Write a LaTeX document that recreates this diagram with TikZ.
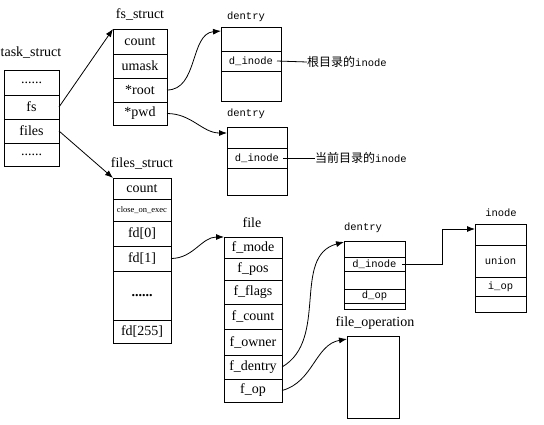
\documentclass[tikz,border=0pt]{standalone}
\usepackage{fontspec}
\setmainfont{Liberation Serif}
\newfontfamily\monofont{Liberation Mono}
\newfontfamily\cjk{Noto Sans CJK SC}
\usetikzlibrary{positioning,arrows.meta}

\tikzstyle{field} = [rectangle, draw, inner sep=0pt, outer sep=0pt, line width=0.8pt,
    font=\fontsize{14}{16}\selectfont]
\tikzstyle{dfield} = [field, font=\monofont\fontsize{10.5}{12}\selectfont]
\tikzstyle{title} = [inner sep=0pt, font=\fontsize{14}{16}\selectfont]
\tikzstyle{dtitle} = [inner sep=0pt, font=\monofont\fontsize{10.5}{12}\selectfont]
\tikzstyle{tsk} = [field, minimum width=55pt]
\tikzstyle{fss} = [field, minimum width=54pt]
\tikzstyle{den} = [dfield, minimum width=60pt]
\tikzstyle{fls} = [field, minimum width=58pt]
\tikzstyle{fil} = [field, minimum width=58pt]
\tikzstyle{ino} = [dfield, minimum width=51pt]
\tikzstyle{line} = [draw, line width=0.8pt, -{Latex[length=8pt,width=6pt]}]
\tikzstyle{plain} = [draw, line width=0.8pt]

\begin{document}
\begin{tikzpicture}[x=1pt, y=-1pt]
    \useasboundingbox (0,0) rectangle (544,424);
    % task_struct
    \node [title] at (31,53) {task\_struct};
    \node [tsk, minimum height=25pt, anchor=north west] (t1) at (4,70) {......};
    \node [tsk, minimum height=24pt, below=0pt of t1] (tfs) {fs};
    \node [tsk, minimum height=24pt, below=0pt of tfs] (tfiles) {files};
    \node [tsk, minimum height=23pt, below=0pt of tfiles] (t4) {......};

    % fs_struct
    \node [title] at (140,14) {fs\_struct};
    \node [fss, minimum height=25pt, anchor=north west] (fs1) at (113,29) {count};
    \node [fss, minimum height=24pt, below=0pt of fs1] (fs2) {umask};
    \node [fss, minimum height=24pt, below=0pt of fs2] (froot) {*root};
    \node [fss, minimum height=23pt, below=0pt of froot] (fpwd) {*pwd};

    % dentry of root
    \node [dtitle] at (246,17) {dentry};
    \node [den, minimum height=24pt, anchor=north west] (d1a) at (221,27) {};
    \node [den, minimum height=20pt, below=0pt of d1a] (d1inode) {d\_inode};
    \node [den, minimum height=30pt, below=0pt of d1inode] (d1c) {};
    \node [anchor=west, inner sep=0pt] (rootlbl) at (307,62)
        {\cjk\fontsize{12}{14}\selectfont 根目录的{\monofont\fontsize{10.5}{12}\selectfont inode}};

    % dentry of pwd
    \node [dtitle] at (246,114) {dentry};
    \node [den, minimum height=21pt, anchor=north west] (d2a) at (227,127) {};
    \node [den, minimum height=20pt, below=0pt of d2a] (d2inode) {d\_inode};
    \node [den, minimum height=27pt, below=0pt of d2inode] (d2c) {};
    \node [anchor=west, inner sep=0pt] (pwdlbl) at (315,158)
        {\cjk\fontsize{12}{14}\selectfont 当前目录的{\monofont\fontsize{10.5}{12}\selectfont inode}};

    % files_struct
    \node [title] at (142,163) {files\_struct};
    \node [fls, minimum height=21pt, anchor=north west] (fl1) at (113,178) {count};
    \node [fls, minimum height=22pt, below=0pt of fl1, font=\fontsize{8.5}{10}\selectfont] (fl2) {close\_on\_exec};
    \node [fls, minimum height=25pt, below=0pt of fl2] (fd0) {fd[0]};
    \node [fls, minimum height=25pt, below=0pt of fd0] (fd1) {fd[1]};
    \node [fls, minimum height=49pt, below=0pt of fd1] (fdots) {\textbf{......}};
    \node [fls, minimum height=23pt, below=0pt of fdots] (fd255) {fd[255]};

    % file
    \node [title] at (252,223) {file};
    \node [fil, minimum height=21pt, anchor=north west] (fmode) at (224,237) {f\_mode};
    \node [fil, minimum height=22pt, below=0pt of fmode] (fpos) {f\_pos};
    \node [fil, minimum height=24pt, below=0pt of fpos] (fflags) {f\_flags};
    \node [fil, minimum height=25pt, below=0pt of fflags] (fcount) {f\_count};
    \node [fil, minimum height=26pt, below=0pt of fcount] (fowner) {f\_owner};
    \node [fil, minimum height=24pt, below=0pt of fowner] (fdentry) {f\_dentry};
    \node [fil, minimum height=23pt, below=0pt of fdentry] (fop) {f\_op};

    % dentry of file
    \node [dtitle] at (363,228) {dentry};
    \node [den, minimum width=61pt, minimum height=16pt, anchor=north west] (d3a) at (344,241) {};
    \node [den, minimum width=61pt, minimum height=14pt, below=0pt of d3a] (d3inode) {d\_inode};
    \node [den, minimum width=61pt, minimum height=18pt, below=0pt of d3inode] (d3c) {};
    \node [den, minimum width=61pt, minimum height=14pt, below=0pt of d3c] (d3op) {d\_op};
    \node [den, minimum width=61pt, minimum height=6pt, below=0pt of d3op] (d3e) {};

    % inode
    \node [dtitle] at (501,213) {inode};
    \node [ino, minimum height=21pt, anchor=north west] (ino1) at (475,224) {};
    \node [ino, minimum height=32pt, below=0pt of ino1] (iunion) {union};
    \node [ino, minimum height=19pt, below=0pt of iunion] (iop) {i\_op};
    \node [ino, minimum height=16pt, below=0pt of iop] (ino4) {};

    % file_operation
    \node [title] at (375,323) {file\_operation};
    \node [field, minimum width=52pt, minimum height=82pt, anchor=north west] (fileop) at (347,336) {};

    % connectors
    \draw [line] (tfs.east) -- (fs1.north west);
    \draw [line] (tfiles.east) -- (fl1.north west);
    \draw [line] (froot.east) to [out=0, in=185] ([yshift=-4pt]d1a.north west);
    \draw [line] (fpwd.east) to [out=0, in=180] ([yshift=-6pt]d2a.north west);
    \draw [plain] ([xshift=-4pt]d1inode.east) -- (rootlbl.west);
    \draw [plain] ([xshift=-4pt]d2inode.east) -- (pwdlbl.west);
    \draw [line] (fd1.east) to [out=0, in=180] (fmode.north west);
    \draw [line] (fdentry.east) to [out=30, in=195] ([yshift=-1pt]d3a.north west);
    \draw [line] (fop.east) to [out=15, in=190] ([yshift=-3pt]fileop.north west);
    \draw [line] ([xshift=-3pt]d3inode.east) -- ++(40,0) |- ([yshift=-5pt]ino1.north west);

\end{tikzpicture}
\end{document}
